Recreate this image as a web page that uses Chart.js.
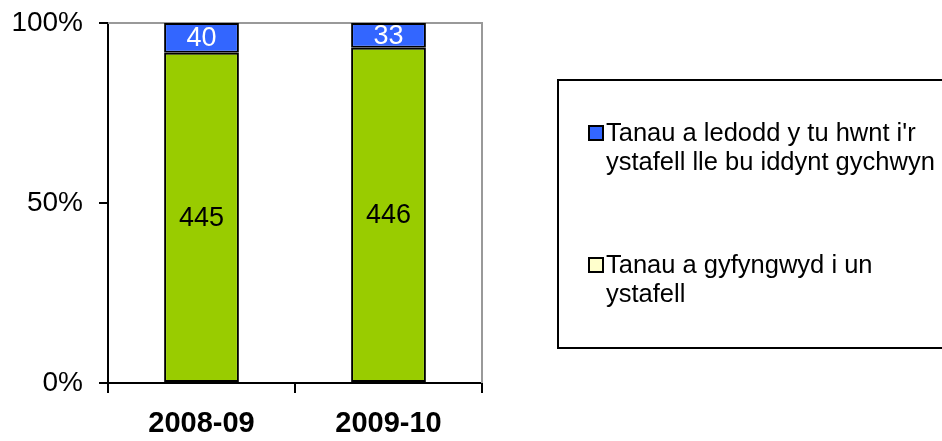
<!DOCTYPE html>
<html>
<head>
<meta charset="utf-8">
<script src="https://cdn.jsdelivr.net/npm/chart.js@4"></script>
<style>
    body { margin: 0; background: #fff; }
    #wrap { position: relative; width: 942px; height: 441px; overflow: hidden; }
    #legend {
        position: absolute; left: 557px; top: 79px; width: 400px; height: 266px;
        border: 2px solid #000;
        font-family: "Liberation Sans", Arial, sans-serif; font-size: 25.5px; line-height: 29px; color: #000;
    }
    .item { position: absolute; left: 29px; width: 336px; padding-left: 18px; }
    .box { position: absolute; left: 0; top: 7px; width: 12px; height: 12px; border: 2px solid #000; }
</style>
</head>
<body>
<div id="wrap">
    <canvas id="chart" width="942" height="441"></canvas>
    <div id="legend"></div>
</div>
<script>
const years = ["2008-09", "2009-10"];
const containedLabel = "Tanau a gyfyngwyd i un ystafell";
const spreadLabel = "Tanau a ledodd y tu hwnt i'r ystafell lle bu iddynt gychwyn";
const containedCounts = [445, 446];
const spreadCounts = [40, 33];
const yTicks = [0, 50, 100];

const font = "'Liberation Sans', Arial, sans-serif";

// stacked to 100%
const totals = years.map((y, i) => containedCounts[i] + spreadCounts[i]);
const toPct = (arr) => arr.map((v, i) => v / totals[i] * 100);

const barLabels = {
    id: "barLabels",
    afterDatasetsDraw(chart) {
        const ctx = chart.ctx;
        ctx.save();
        ctx.font = `27px ${font}`;
        ctx.textAlign = "center";
        ctx.textBaseline = "middle";
        chart.data.datasets.forEach((ds, di) => {
            chart.getDatasetMeta(di).data.forEach((bar, i) => {
                ctx.fillStyle = ds.labelColor;
                ctx.fillText(ds.counts[i], bar.x, (bar.y + bar.base) / 2 + 1);
            });
        });
        ctx.restore();
    }
};

const frame = {
    id: "frame",
    beforeDatasetsDraw(chart) {
        const { ctx, chartArea: a } = chart;
        ctx.save();
        ctx.strokeStyle = "#999";
        ctx.lineWidth = 2;
        ctx.beginPath();
        ctx.moveTo(a.left, a.top);
        ctx.lineTo(a.right, a.top);
        ctx.lineTo(a.right, a.bottom);
        ctx.stroke();
        ctx.restore();
    }
};

const chart = new Chart(document.getElementById("chart").getContext("2d"), {
    type: "bar",
    data: {
        labels: years,
        datasets: [
            {
                label: containedLabel,
                data: toPct(containedCounts),
                counts: containedCounts,
                labelColor: "#000",
                legendColor: "#FFFFCC",
                backgroundColor: "#99CC00",
                borderColor: "#000",
                borderWidth: 2,
                borderSkipped: false
            },
            {
                label: spreadLabel,
                data: toPct(spreadCounts),
                counts: spreadCounts,
                labelColor: "#fff",
                legendColor: "#3366FF",
                backgroundColor: "#3366FF",
                borderColor: "#000",
                borderWidth: 2,
                borderSkipped: false
            }
        ]
    },
    options: {
        responsive: false,
        animation: false,
        layout: { padding: { top: 23, right: 460, left: 0, bottom: 0 } },
        plugins: {
            legend: { display: false },
            tooltip: { enabled: false }
        },
        datasets: {
            bar: { categoryPercentage: 1, barPercentage: 0.4 }
        },
        scales: {
            x: {
                stacked: true,
                grid: { offset: true, drawOnChartArea: false, tickLength: 10, color: "#000", lineWidth: 2 },
                border: { color: "#000", width: 2 },
                ticks: { color: "#000", padding: 14, font: { family: font, size: 29, weight: "bold" } },
                afterFit: (s) => { s.height = 58; s.paddingLeft = 0; s.paddingRight = 0; }
            },
            y: {
                stacked: true,
                min: 0,
                max: 100,
                afterBuildTicks: (s) => { s.ticks = yTicks.map(v => ({ value: v })); },
                grid: { drawOnChartArea: false, tickLength: 9, color: "#000", lineWidth: 2 },
                border: { color: "#000", width: 2 },
                ticks: {
                    color: "#000", padding: 16,
                    font: { family: font, size: 28 },
                    callback: (v) => v + "%"
                },
                afterFit: (s) => { s.width = 108; s.paddingTop = 0; s.paddingBottom = 0; }
            }
        }
    },
    plugins: [frame, barLabels]
});

// legend from the datasets, top series first
const legendEl = document.getElementById("legend");
const tops = [37, 169];
chart.data.datasets.slice().reverse().forEach((ds, i) => {
    const item = document.createElement("div");
    item.className = "item";
    item.style.top = tops[i] + "px";
    item.innerHTML = `<span class="box" style="background:${ds.legendColor}"></span>${ds.label}`;
    legendEl.appendChild(item);
});
</script>
</body>
</html>
